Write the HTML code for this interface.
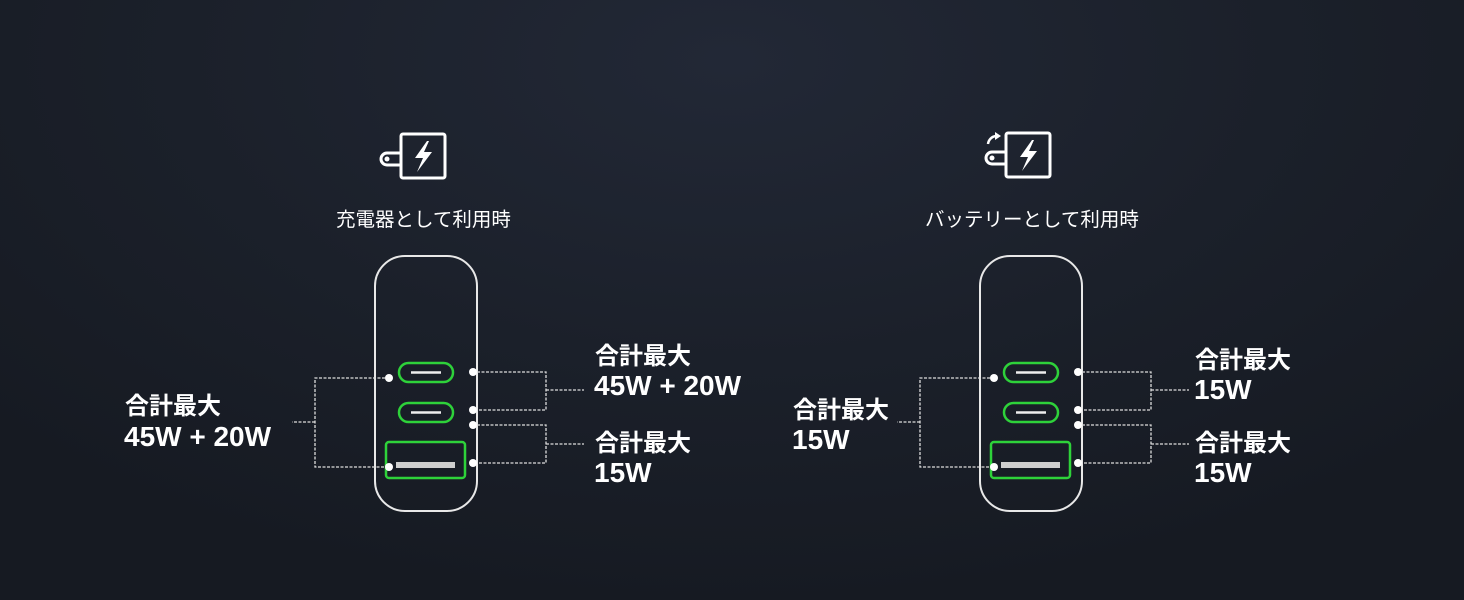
<!DOCTYPE html>
<html><head><meta charset="utf-8"><style>
html,body{margin:0;padding:0;}
body{width:1464px;height:600px;overflow:hidden;background:radial-gradient(ellipse 1000px 550px at 730px 60px,#222836 0%,#1b202a 55%,#161a22 100%);}
svg{display:block}
text{font-family:"Liberation Sans","Noto Sans CJK JP",sans-serif;fill:#fff;}
.b{font-weight:bold;font-size:24px;}
.n{font-weight:bold;font-size:28px;}
.s{font-size:19.5px;}
</style></head><body>
<svg width="1464" height="600" viewBox="0 0 1464 600">
<defs>
<g id="dev">
  <rect x="375" y="256" width="102" height="255" rx="30" fill="none" stroke="#e8e8e8" stroke-width="2"/>
  <rect x="399" y="363" width="54" height="19" rx="9.5" fill="none" stroke="#2ed23a" stroke-width="2.5"/>
  <line x1="411" y1="372.5" x2="441" y2="372.5" stroke="#eee" stroke-width="2.5"/>
  <rect x="399" y="403" width="54" height="19" rx="9.5" fill="none" stroke="#2ed23a" stroke-width="2.5"/>
  <line x1="411" y1="412.5" x2="441" y2="412.5" stroke="#eee" stroke-width="2.5"/>
  <rect x="386" y="442" width="79" height="36" rx="3" fill="none" stroke="#2ed23a" stroke-width="2.5"/>
  <rect x="396" y="462" width="59" height="6" fill="#cfcfcf"/>
  <g fill="#fff"><circle cx="389" cy="378" r="4"/><circle cx="389" cy="467" r="4"/>
  <circle cx="473" cy="372" r="4"/><circle cx="473" cy="410" r="4"/><circle cx="473" cy="425" r="4"/><circle cx="473" cy="463" r="4"/></g>
  <g fill="none" stroke="#ddd" stroke-width="1.3" stroke-dasharray="3,1.5">
    <polyline points="385,378 315,378 315,467 385,467"/>
    <line x1="315" y1="422" x2="292" y2="422"/>
    <polyline points="477,372 546,372 546,410 477,410"/>
    <line x1="546" y1="390" x2="584" y2="390"/>
    <polyline points="477,425 546,425 546,463 477,463"/>
    <line x1="546" y1="444" x2="584" y2="444"/>
  </g>
</g>
<g id="plug">
  <rect x="401" y="134" width="44" height="44" rx="2" fill="none" stroke="#fff" stroke-width="3"/>
  <path d="M401,153 H387 a6,6 0 0 0 0,12 H401" fill="none" stroke="#fff" stroke-width="3"/>
  <circle cx="387" cy="159" r="2.5" fill="#fff"/>
  <path d="M427,141 L415,158 H423 L417,172 L432,152 H424 L429,141 Z" fill="#fff"/>
</g>
</defs>
<use href="#dev"/>
<use href="#dev" transform="translate(605,0)"/>
<use href="#plug"/>
<use href="#plug" transform="translate(605,-1)"/>
<path d="M988,144 a9,9 0 0 1 8,-8" fill="none" stroke="#fff" stroke-width="2.5"/>
<path d="M995,132 L1001,136 L995,140 Z" fill="#fff"/>

<text class="s" x="336" y="226">充電器として利用時</text>
<text class="s" x="925" y="226">バッテリーとして利用時</text>

<text class="b" x="125" y="414">合計最大</text>
<text class="n" x="124" y="446">45W + 20W</text>
<text class="b" x="595" y="364">合計最大</text>
<text class="n" x="594" y="395">45W + 20W</text>
<text class="b" x="595" y="451">合計最大</text>
<text class="n" x="594" y="482">15W</text>

<text class="b" x="793" y="418">合計最大</text>
<text class="n" x="792" y="449">15W</text>
<text class="b" x="1195" y="368">合計最大</text>
<text class="n" x="1194" y="399">15W</text>
<text class="b" x="1195" y="451">合計最大</text>
<text class="n" x="1194" y="482">15W</text>
</svg>
</body></html>
